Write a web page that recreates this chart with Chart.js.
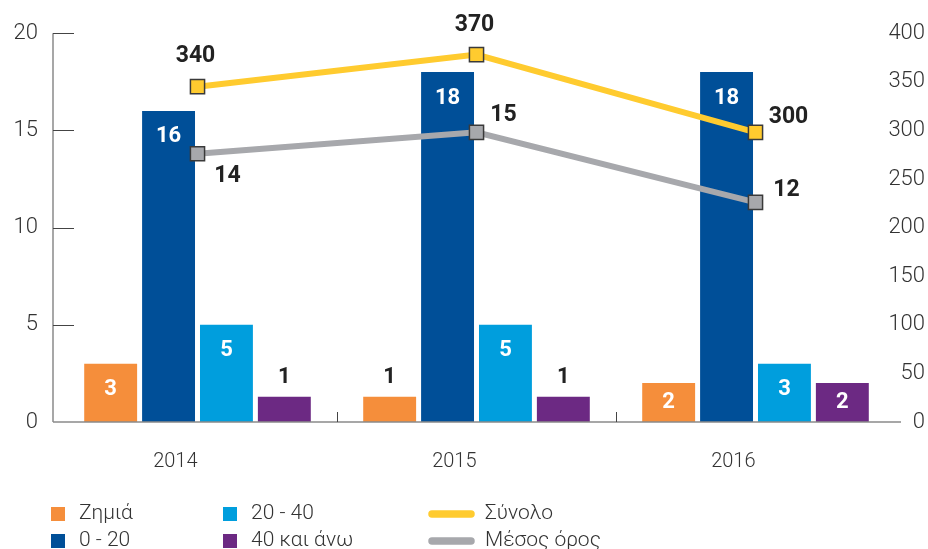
<!DOCTYPE html>
<html><head><meta charset="utf-8">
<script src="https://cdn.jsdelivr.net/npm/chart.js@4/dist/chart.umd.min.js"></script>
<style>html,body{margin:0;padding:0;background:#fff;}</style>
</head><body>
<canvas id="c" width="928" height="549" style="width:928px;height:549px;display:block"></canvas>
<script>
// ---- data ----
const categories = ['2014', '2015', '2016'];
const seriesNames = ['Ζημιά', '0 - 20', '20 - 40', '40 και άνω', 'Σύνολο', 'Μέσος όρος'];
const lossValues = [3, 1.3, 2];
const lossLabels = [3, 1, 2];
const band0to20Values = [16, 18, 18];
const band0to20Labels = [16, 18, 18];
const band20to40Values = [5, 5, 3];
const band20to40Labels = [5, 5, 3];
const band40plusValues = [1.3, 1.3, 2];
const band40plusLabels = [1, 1, 2];
const totalValues = [345, 378, 298];
const totalLabels = [340, 370, 300];
const averageValues = [13.8, 14.9, 11.3];
const averageLabels = [14, 15, 12];
const leftTicks = [0, 5, 10, 15, 20];
const rightTicks = [0, 50, 100, 150, 200, 250, 300, 350, 400];

// ---- styles ----
const C = {
  orange: '#F58E3B', dblue: '#004F98', lblue: '#009EDD', purple: '#6C2983',
  yellow: '#FFCB2F', gray: '#A7A8AC', text: '#333333', dark: '#222222', axis: '#8a8a8a'
};
const FONT = 'Roboto, "Liberation Sans", Arial, sans-serif';
// label offsets for line labels (dx, dy relative to point)
const lineLabelOffsets = {
  4: [[-2, -30], [-2, -29], [33, -15]],
  5: [[30, 23], [27, -17], [31, -12]]
};

const decorPlugin = {
  id: 'decor',
  afterDatasetsDraw(chart) {
    const ctx = chart.ctx, a = chart.chartArea;
    const y = chart.scales.y, y2 = chart.scales.y2, x = chart.scales.x;
    const axisX = a.left - 5;
    ctx.save();
    // left axis line
    ctx.strokeStyle = C.axis; ctx.lineWidth = 1.5;
    ctx.beginPath(); ctx.moveTo(axisX, a.top); ctx.lineTo(axisX, a.bottom); ctx.stroke();
    // bottom axis line
    ctx.beginPath(); ctx.moveTo(axisX, a.bottom); ctx.lineTo(a.right + 6, a.bottom); ctx.stroke();
    // inward y ticks
    ctx.strokeStyle = '#444'; ctx.lineWidth = 1;
    leftTicks.forEach(v => {
      if (v === 0) return;
      const py = Math.round(y.getPixelForValue(v)) + 0.5;
      ctx.beginPath(); ctx.moveTo(axisX, py); ctx.lineTo(axisX + 21, py); ctx.stroke();
    });
    // category separators
    for (let i = 1; i < categories.length; i++) {
      const px = Math.round((x.getPixelForValue(i - 1) + x.getPixelForValue(i)) / 2) + 0.5;
      ctx.beginPath(); ctx.moveTo(px, a.bottom - 10); ctx.lineTo(px, a.bottom); ctx.stroke();
    }
    // right axis labels
    ctx.font = '300 22px ' + FONT;
    ctx.fillStyle = C.text; ctx.textAlign = 'right'; ctx.textBaseline = 'middle';
    rightTicks.forEach(v => {
      ctx.fillText(String(v), chart.width - 3, y2.getPixelForValue(v));
    });
    // bar labels
    ctx.textAlign = 'center'; ctx.textBaseline = 'middle';
    ctx.font = 'bold 22px ' + FONT;
    [0, 1, 2, 3].forEach(di => {
      const ds = chart.data.datasets[di];
      chart.getDatasetMeta(di).data.forEach((bar, i) => {
        const h = bar.base - bar.y;
        const txt = String(ds.valueLabels[i]);
        if (h >= 30) {
          ctx.fillStyle = '#ffffff';
          ctx.fillText(txt, bar.x, bar.y + Math.min(26, h / 2));
        } else {
          ctx.fillStyle = C.dark;
          ctx.fillText(txt, bar.x, bar.y - 19);
        }
      });
    });
    // line labels
    ctx.font = 'bold 23px ' + FONT;
    ctx.fillStyle = C.dark;
    [4, 5].forEach(di => {
      const ds = chart.data.datasets[di];
      chart.getDatasetMeta(di).data.forEach((pt, i) => {
        const o = lineLabelOffsets[di][i];
        ctx.fillText(String(ds.valueLabels[i]), pt.x + o[0], pt.y + o[1]);
      });
    });
    ctx.restore();
  },
  afterDraw(chart) {
    const ctx = chart.ctx;
    const cols = [[0, 1], [2, 3], [4, 5]];
    const colX = [51, 223, 428];
    const rowY = [514, 541];
    ctx.save();
    ctx.font = '300 21px ' + FONT;
    ctx.textBaseline = 'middle'; ctx.textAlign = 'left';
    cols.forEach((col, ci) => {
      col.forEach((di, ri) => {
        const ds = chart.data.datasets[di];
        const cx = colX[ci], cy = rowY[ri];
        if (ds.type === 'line') {
          ctx.strokeStyle = ds.borderColor; ctx.lineWidth = 7.5; ctx.lineCap = 'round';
          ctx.beginPath(); ctx.moveTo(cx + 4, cy); ctx.lineTo(cx + 43, cy); ctx.stroke();
          ctx.fillStyle = C.text;
          ctx.fillText(ds.label, cx + 57, cy);
        } else {
          ctx.fillStyle = ds.backgroundColor;
          ctx.fillRect(cx, cy - 7, 14, 14);
          ctx.fillStyle = C.text;
          ctx.fillText(ds.label, cx + 28, cy);
        }
      });
    });
    ctx.restore();
  }
};

const bar = (label, data, labels, color) => ({
  type: 'bar', label, data, valueLabels: labels, backgroundColor: color,
  borderWidth: 0, yAxisID: 'y', order: 2,
  categoryPercentage: 0.83, barPercentage: 0.914
});

const line = (label, data, labels, color, axis) => ({
  type: 'line', label, data, valueLabels: labels, borderColor: color, backgroundColor: color,
  borderWidth: 6, tension: 0, yAxisID: axis, order: 1,
  pointStyle: 'rect', pointRadius: 10, pointBorderColor: '#3a3a3a', pointBorderWidth: 1.5,
  pointBackgroundColor: color
});

Chart.defaults.font.family = FONT;

new Chart(document.getElementById('c'), {
  data: {
    labels: categories,
    datasets: [
      bar(seriesNames[0], lossValues, lossLabels, C.orange),
      bar(seriesNames[1], band0to20Values, band0to20Labels, C.dblue),
      bar(seriesNames[2], band20to40Values, band20to40Labels, C.lblue),
      bar(seriesNames[3], band40plusValues, band40plusLabels, C.purple),
      line(seriesNames[4], totalValues, totalLabels, C.yellow, 'y2'),
      line(seriesNames[5], averageValues, averageLabels, C.gray, 'y')
    ]
  },
  options: {
    responsive: false,
    animation: false,
    devicePixelRatio: 1,
    layout: { padding: { top: 33, right: 0, bottom: 0, left: 0 } },
    plugins: { legend: { display: false }, tooltip: { enabled: false } },
    scales: {
      x: {
        type: 'category',
        offset: true,
        grid: { display: false, drawTicks: false },
        border: { display: false },
        ticks: { color: C.text, font: { size: 20, weight: 300 }, padding: 28, align: 'end' },
        afterFit(s) { s.height = 127; }
      },
      y: {
        position: 'left', min: 0, max: 20,
        grid: { display: false, drawTicks: false },
        border: { display: false },
        ticks: { color: C.text, font: { size: 22, weight: 300 }, padding: 20 },
        afterBuildTicks(s) { s.ticks = leftTicks.map(v => ({ value: v })); },
        afterFit(s) { s.width = 58; }
      },
      y2: {
        position: 'right', min: 0, max: 400,
        grid: { display: false, drawTicks: false },
        border: { display: false },
        ticks: { display: false },
        afterBuildTicks(s) { s.ticks = rightTicks.map(v => ({ value: v })); },
        afterFit(s) { s.width = 33; }
      }
    }
  },
  plugins: [decorPlugin]
});
</script>
</body></html>
